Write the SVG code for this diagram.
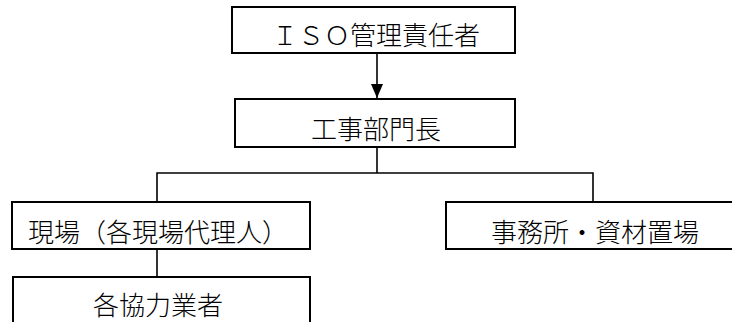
<svg xmlns="http://www.w3.org/2000/svg" width="732" height="322" viewBox="0 0 732 322">
<defs>
<style>
.box{fill:#fff;stroke:#000;stroke-width:2}
.lbl{font-family:"Noto Sans CJK JP","Noto Sans CJK SC",sans-serif;font-size:26px;font-weight:300;fill:#000;text-anchor:middle;dominant-baseline:central}
.con{fill:none;stroke:#000;stroke-width:1.6}
</style>
<marker id="arr" viewBox="0 0 14 12" refX="14" refY="6" markerWidth="14" markerHeight="14" markerUnits="userSpaceOnUse" orient="auto">
<path d="M0,0 L14,6 L0,12 Z" fill="#000"/>
</marker>
</defs>
<rect width="732" height="322" fill="#fff"/>
<g id="connectors">
<line class="con" x1="377" y1="53" x2="377" y2="98" marker-end="url(#arr)"/>
<polyline class="con" points="377,147 377,173"/>
<polyline class="con" points="157,202 157,173 593,173 593,202"/>
<line class="con" x1="157" y1="249" x2="157" y2="277"/>
</g>
<g id="iso">
<rect class="box" x="232" y="7" width="283" height="46"/>
<text class="lbl" x="376" y="33">ＩＳＯ管理責任者</text>
</g>
<g id="koji">
<rect class="box" x="235" y="99" width="280" height="48"/>
<text class="lbl" x="376" y="127">工事部門長</text>
</g>
<g id="genba">
<rect class="box" x="12" y="202" width="298" height="47"/>
<text class="lbl" x="158" y="230">現場（各現場代理人）</text>
</g>
<g id="kyoryoku">
<rect class="box" x="13" y="277" width="297" height="60"/>
<text class="lbl" x="158" y="303">各協力業者</text>
</g>
<g id="jimusho">
<rect class="box" x="446" y="202" width="300" height="47"/>
<text class="lbl" x="595" y="230">事務所・資材置場</text>
</g>
</svg>
